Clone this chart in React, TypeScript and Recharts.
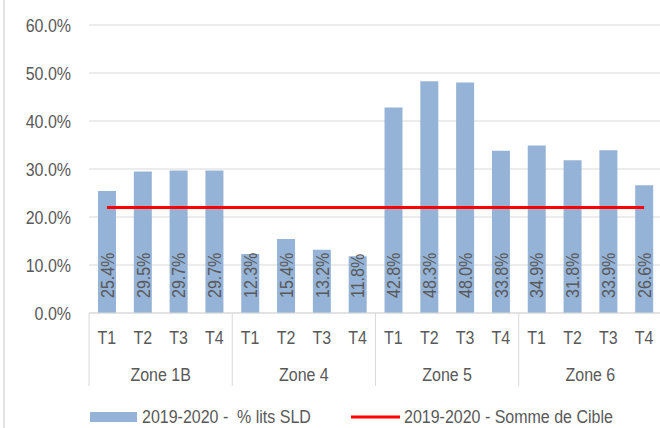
import React from 'react';
import { ComposedChart, Bar, Line, XAxis, YAxis, CartesianGrid, Legend } from 'recharts';

const zones = ['Zone 1B', 'Zone 4', 'Zone 5', 'Zone 6'];
const quarters = ['T1', 'T2', 'T3', 'T4'];
const sldValues = [25.4, 29.5, 29.7, 29.7, 12.3, 15.4, 13.2, 11.8, 42.8, 48.3, 48.0, 33.8, 34.9, 31.8, 33.9, 26.6];
const cibleValues = [22, 22, 22, 22, 22, 22, 22, 22, 22, 22, 22, 22, 22, 22, 22, 22];
const yTicks = [0, 10, 20, 30, 40, 50, 60];
const seriesNames = ['2019-2020 -  % lits SLD', '2019-2020 - Somme de Cible'];

const data = sldValues.map((v, i) => ({
  id: i,
  zone: zones[Math.floor(i / 4)],
  q: quarters[i % 4],
  sld: v,
  cible: cibleValues[i],
}));

const FONT = '"Liberation Sans", Arial, sans-serif';
const TEXT = '#595959';
const GRID = '#d9d9d9';
const BAR = '#95B3D7';
const RED = '#FF0000';
const STRETCH = 1.16;

const CHART_W = 664;
const CHART_H = 428;
const MARGIN = { top: 25, right: 2, left: 9, bottom: 0 };
const Y_W = 80;
const X_H = 73;
const PLOT_W = CHART_W - MARGIN.left - MARGIN.right - Y_W;
const BW = PLOT_W / data.length;

const STxt = ({ x, y, anchor = 'middle', rotate = 0, dy, children }: any) => (
  <text
    x={0}
    y={0}
    dy={dy}
    transform={`translate(${x},${y}) rotate(${rotate}) scale(1,${STRETCH})`}
    textAnchor={anchor}
    fill={TEXT}
    fontSize={16}
    fontFamily={FONT}
    style={{ whiteSpace: 'pre' }}
  >
    {children}
  </text>
);

const XTick = (props: any) => {
  const { x, y, payload } = props;
  const index = Number(payload.value);
  const row = data[index];
  const els: React.ReactNode[] = [];
  els.push(
    <STxt key="t" x={x} y={y + 31}>
      {row.q}
    </STxt>
  );
  if (index % 4 === 1) {
    els.push(
      <STxt key="z" x={x + BW / 2} y={y + 68}>
        {row.zone}
      </STxt>
    );
  }
  if (index % 4 === 0) {
    els.push(<line key="l" x1={x - BW / 2} x2={x - BW / 2} y1={y} y2={y + X_H} stroke={GRID} strokeWidth={1} />);
  }
  if (index === data.length - 1) {
    els.push(<line key="r" x1={x + BW / 2} x2={x + BW / 2} y1={y} y2={y + X_H} stroke={GRID} strokeWidth={1} />);
  }
  return <g>{els}</g>;
};

const YTick = (props: any) => {
  const { x, y, payload } = props;
  return (
    <STxt x={x} y={y + 7} anchor="end">
      {Number(payload.value).toFixed(1) + '%'}
    </STxt>
  );
};

const BarLabel = (props: any) => {
  const { x, y, width, height, value } = props;
  const cx = Number(x) + Number(width) / 2;
  const by = Number(y) + Number(height) - 15;
  return (
    <STxt x={cx} y={by} rotate={-90} anchor="start" dy="0.36em">
      {Number(value).toFixed(1) + '%'}
    </STxt>
  );
};

const renderLegend = () => (
  <svg width={660} height={42} style={{ display: 'block' }}>
    <rect x={90} y={26} width={47} height={10} fill={BAR} />
    <STxt x={142} y={37} anchor="start">
      {seriesNames[0]}
    </STxt>
    <line x1={351} x2={400} y1={31} y2={31} stroke={RED} strokeWidth={3} />
    <STxt x={404} y={37} anchor="start">
      {seriesNames[1]}
    </STxt>
  </svg>
);

export default function App() {
  return (
    <div style={{ position: 'absolute', left: 0, top: 0, width: 660, height: 428, overflow: 'hidden', background: '#fff' }}>
      <div style={{ position: 'absolute', left: 3, top: 0, width: 2, height: 428, background: '#e3e3e3' }} />
      <ComposedChart width={CHART_W} height={CHART_H} data={data} margin={MARGIN}>
        <CartesianGrid vertical={false} stroke={GRID} strokeWidth={1} />
        <XAxis
          dataKey="id"
          type="category"
          interval={0}
          height={X_H}
          tickSize={0}
          tickMargin={0}
          tickLine={false}
          axisLine={{ stroke: GRID, strokeWidth: 1 }}
          tick={(p: any) => <XTick {...p} />}
        />
        <YAxis
          width={Y_W}
          type="number"
          domain={[0, 60]}
          ticks={yTicks}
          axisLine={false}
          tickLine={false}
          tickSize={0}
          tickMargin={18}
          tick={(p: any) => <YTick {...p} />}
        />
        <Bar
          dataKey="sld"
          name={seriesNames[0]}
          fill={BAR}
          barSize={18}
          isAnimationActive={false}
          label={(p: any) => <BarLabel {...p} />}
        />
        <Line
          dataKey="cible"
          name={seriesNames[1]}
          type="linear"
          stroke={RED}
          strokeWidth={3}
          dot={false}
          activeDot={false}
          isAnimationActive={false}
        />
        <Legend verticalAlign="bottom" content={renderLegend} wrapperStyle={{ left: 0, bottom: 0, width: 660, height: 42 }} />
      </ComposedChart>
    </div>
  );
}
